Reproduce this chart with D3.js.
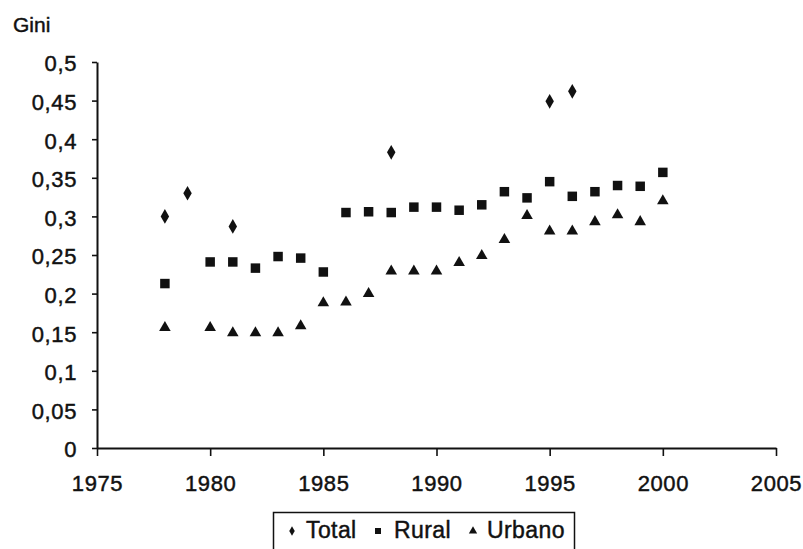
<!DOCTYPE html>
<html>
<head>
<meta charset="utf-8">
<script src="https://cdn.jsdelivr.net/npm/d3@7"></script>
<style>
  body { margin: 0; background: #fff; }
  svg text { font-family: "Liberation Sans", Arial, sans-serif; fill: #111; stroke: #111; stroke-width: 0.45px; }
</style>
</head>
<body>
<div id="chart"></div>
<script>
// Gini values
const totalYears = [1978, 1979, 1981, 1988, 1995, 1996];
const totalValues = [0.300, 0.330, 0.287, 0.383, 0.449, 0.462];

const ruralYears = [1978, 1980, 1981, 1982, 1983, 1984, 1985, 1986, 1987, 1988, 1989,
  1990, 1991, 1992, 1993, 1994, 1995, 1996, 1997, 1998, 1999, 2000];
const ruralValues = [0.213, 0.241, 0.241, 0.233, 0.248, 0.246, 0.228, 0.305, 0.306, 0.305, 0.312,
  0.312, 0.308, 0.315, 0.332, 0.324, 0.345, 0.326, 0.332, 0.340, 0.339, 0.357];

const urbanYears = [1978, 1980, 1981, 1982, 1983, 1984, 1985, 1986, 1987, 1988, 1989,
  1990, 1991, 1992, 1993, 1994, 1995, 1996, 1997, 1998, 1999, 2000];
const urbanValues = [0.156, 0.156, 0.149, 0.149, 0.149, 0.158, 0.188, 0.189, 0.200, 0.229, 0.229,
  0.229, 0.240, 0.249, 0.270, 0.301, 0.281, 0.281, 0.293, 0.302, 0.293, 0.320];

const xTicks = [1975, 1980, 1985, 1990, 1995, 2000, 2005];
const yTicks = [0, 0.05, 0.1, 0.15, 0.2, 0.25, 0.3, 0.35, 0.4, 0.45, 0.5];
const legendLabels = ["Total", "Rural", "Urbano"];

const width = 803, height = 549;
const margin = { top: 62, right: 27, bottom: 101, left: 97 };

const svg = d3.select("#chart").append("svg")
  .attr("width", width)
  .attr("height", height);

const x = d3.scaleLinear().domain([1975, 2005]).range([margin.left, width - margin.right]);
const y = d3.scaleLinear().domain([0, 0.5]).range([height - margin.bottom, margin.top]);

const fmt = v => String(v).replace(".", ",");

// axes
const xAxis = svg.append("g")
  .attr("transform", `translate(0,${height - margin.bottom})`)
  .call(d3.axisBottom(x).tickValues(xTicks).tickFormat(d3.format("d"))
    .tickSize(8).tickSizeOuter(0).tickPadding(19));

const yAxis = svg.append("g")
  .attr("transform", `translate(${margin.left},0)`)
  .call(d3.axisLeft(y).tickValues(yTicks).tickFormat(fmt)
    .tickSize(5).tickSizeOuter(0).tickPadding(15));

[xAxis, yAxis].forEach(g => {
  g.select(".domain").attr("stroke", "#111").attr("stroke-width", 2);
  g.selectAll(".tick line").attr("stroke", "#111").attr("stroke-width", 1.6);
  g.selectAll(".tick text")
    .style("font-size", "22px")
    .style("letter-spacing", "0.6px")
    .attr("fill", "#111");
});
yAxis.selectAll(".tick text").attr("dy", "0.4em");

svg.append("text")
  .attr("x", 13)
  .attr("y", 32)
  .style("font-size", "21px")
  .text("Gini");

// markers
const series = [
  { years: totalYears, values: totalValues, symbol: d3.symbolDiamond, size: 62 },
  { years: ruralYears, values: ruralValues, symbol: d3.symbolSquare, size: 90 },
  { years: urbanYears, values: urbanValues, symbol: d3.symbolTriangle, size: 58 }
];

series.forEach(s => {
  const path = d3.symbol().type(s.symbol).size(s.size);
  svg.append("g")
    .selectAll("path")
    .data(s.years.map((yr, i) => [yr, s.values[i]]))
    .join("path")
    .attr("d", path)
    .attr("fill", "#111")
    .attr("transform", d => `translate(${x(d[0])},${y(d[1])})`);
});

// legend
const legend = svg.append("g");
legend.append("rect")
  .attr("x", 273.5).attr("y", 512.5)
  .attr("width", 301).attr("height", 40)
  .attr("fill", "none").attr("stroke", "#111").attr("stroke-width", 1.5);

const legendItems = [
  { label: legendLabels[0], symbol: d3.symbolDiamond, size: 26, sx: 292, tx: 306 },
  { label: legendLabels[1], symbol: d3.symbolSquare, size: 36, sx: 378, tx: 394 },
  { label: legendLabels[2], symbol: d3.symbolTriangle, size: 30, sx: 473, tx: 487 }
];
legendItems.forEach(it => {
  legend.append("path")
    .attr("d", d3.symbol().type(it.symbol).size(it.size))
    .attr("fill", "#111")
    .attr("transform", `translate(${it.sx},531)`);
  legend.append("text")
    .attr("x", it.tx)
    .attr("y", 538)
    .style("font-size", "23px")
    .style("letter-spacing", "0.4px")
    .text(it.label);
});
</script>
</body>
</html>
